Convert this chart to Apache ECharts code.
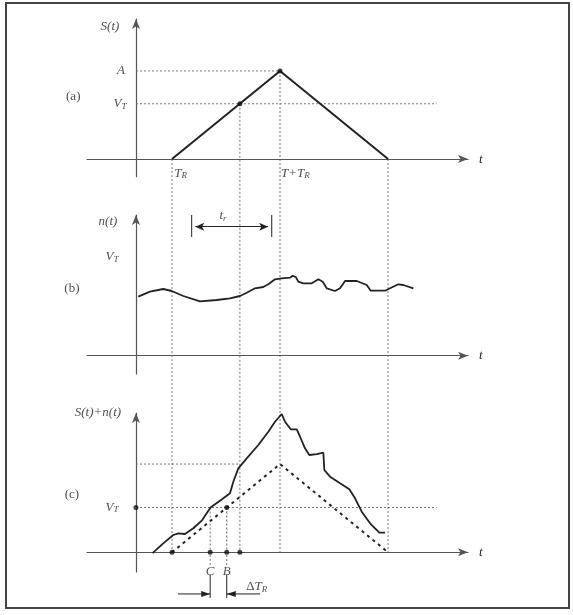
<!DOCTYPE html>
<html><head><meta charset="utf-8">
<script src="https://cdn.jsdelivr.net/npm/echarts@6/dist/echarts.min.js"></script>
<style>html,body{margin:0;padding:0;background:#fff}#c{width:573px;height:615px}</style>
</head><body><div id="c"></div><script>
// ---------- data (t in units of T_R; each panel's own vertical units) ----------
const sigT = [1, 4, 7];                 // T_R, T+T_R, 2T+T_R
const sigA = [0, 1, 0];                 // panel (a): A = 1
const vtA = 0.628;                      // V_T level in panel (a)
const crossT = 2.885;                   // S(t) reaches V_T
const noiseT = [0.064,0.389,0.758,0.992,1.314,1.778,2.242,2.611,2.889,3.075,3.306,3.536,3.675,3.861,4.047,4.278,4.353,4.444,4.508,4.647,4.881,5.064,5.186,5.297,5.528,5.667,5.806,6.131,6.408,6.519,6.917,7.056,7.286,7.425,7.703];
const noiseV = [0.59,0.64,0.667,0.647,0.597,0.544,0.557,0.574,0.597,0.63,0.674,0.687,0.714,0.764,0.774,0.78,0.80,0.784,0.74,0.724,0.724,0.764,0.74,0.674,0.647,0.674,0.747,0.747,0.707,0.65,0.65,0.674,0.714,0.707,0.674];
const sumT = [0.46,0.758,1.036,1.175,1.361,1.592,1.84,2.07,2.38,2.611,2.703,2.842,3.075,3.397,3.675,3.861,4.047,4.139,4.297,4.464,4.556,4.694,4.814,5.019,5.203,5.231,5.389,5.667,5.925,6.083,6.269,6.5,6.758,6.917];
const sumV = [-0.02,0.20,0.386,0.424,0.408,0.536,0.72,1.0,1.18,1.317,1.576,1.875,2.098,2.395,2.692,2.915,3.087,2.915,2.746,2.746,2.58,2.321,2.172,2.194,2.223,1.837,1.688,1.54,1.406,1.205,0.906,0.647,0.4375,0.4375];
const sigC = [0, 1.97, 0];              // dashed S(t) in panel (c)
const vtB = 1, vtC = 1;                 // V_T in panels (b), (c)
const tC = 2.06, tB = 2.52;             // points C and B
const trSpan = [1.547, 3.77];           // t_r marker in panel (b)
const dTrArrows = [[1.167, 2.06], [3.444, 2.52]];
const dTrLevel = -0.93;
const vtLineEnd = 8.35;
const connT = [1, 2.885, 4, 7];         // vertical guides from (a) down to (c)
const connTop = [0, 0.628, 1, 0];

// ---------- helpers ----------
const SERIF = 'Liberation Serif, Times New Roman, serif';
const INK = '#222';
const GUIDE = '#777';
function pairs(xs, ys){ return xs.map((x,i)=>[x, ys[i]]); }
function line(grid, data, color, width, type, z){
  return {type:'line', xAxisIndex:grid, yAxisIndex:grid, data:data, symbol:'none', silent:true,
    clip:false, animation:false, z:z||2, lineStyle:{color:color, width:width, type:type||'solid'}};
}
function dots(grid, data){
  return {type:'scatter', xAxisIndex:grid, yAxisIndex:grid, data:data, symbol:'circle', symbolSize:5,
    itemStyle:{color:'#111'}, silent:true, animation:false, clip:false, z:5};
}
const rich = {
  i:{fontFamily:SERIF, fontStyle:'italic', fontSize:13, color:INK},
  s:{fontFamily:SERIF, fontStyle:'italic', fontSize:9, color:INK, padding:[5,0,0,0]},
  n:{fontFamily:SERIF, fontSize:13, color:INK}
};
function texts(grid, items){
  return {type:'scatter', xAxisIndex:grid, yAxisIndex:grid, symbolSize:1, silent:true, animation:false, clip:false,
    itemStyle:{color:'rgba(0,0,0,0)'}, z:6,
    data: items.map(it=>({value:[it[0], it[1]], name:it[2], label:{align:it[3]||'center'}})),
    label:{show:true, position:'inside', verticalAlign:'middle', formatter:p=>p.name, rich:rich}};
}
function xAx(i){
  return {type:'value', gridIndex:i, min:-1.36, max:9.22,
    axisLine:{show:true, onZero:true, symbol:['none','arrow'], symbolSize:[6,10], lineStyle:{color:'#555', width:1.2}},
    axisTick:{show:false}, axisLabel:{show:false}, splitLine:{show:false},
    name:'t', nameLocation:'end', nameGap:11,
    nameTextStyle:{fontFamily:SERIF, fontStyle:'italic', fontSize:13, color:INK}};
}
function yAx(i, mn, mx){
  return {type:'value', gridIndex:i, min:mn, max:mx,
    axisLine:{show:true, onZero:true, symbol:['none','arrow'], symbolSize:[6,10], lineStyle:{color:'#555', width:1.2}},
    axisTick:{show:false}, axisLabel:{show:false}, splitLine:{show:false}};
}

const series = [
  // ----- panel (a) -----
  line(0, [[0,1],[4,1]], GUIDE, 1, [2,2], 1),
  line(0, [[0,vtA],[vtLineEnd,vtA]], GUIDE, 1, [2,2], 1),
  line(0, pairs(sigT, sigA), INK, 2),
  dots(0, [[crossT, vtA],[sigT[1], sigA[1]]]),
  texts(0, [[-0.722,1.5,'{i|S(t)}'],[-0.417,1,'{i|A}'],[-0.444,vtA,'{i|V}{s|T}'],[-1.742,0.708,'{n|(a)}'],
            [1.06,-0.16,'{i|T}{s|R}','left'],[4.03,-0.16,'{i|T+T}{s|R}','left']]),
  // ----- panel (b) -----
  line(1, pairs(noiseT, noiseV), INK, 1.8),
  line(1, [[trSpan[0],1.187],[trSpan[0],1.407]], INK, 1),
  Object.assign(line(1, [[trSpan[1],1.187],[trSpan[1],1.407]], INK, 1), {
    markLine:{silent:true, animation:false, symbol:['arrow','arrow'], symbolSize:[6,9],
      lineStyle:{color:INK, width:1, type:'solid'}, label:{show:false},
      data:[[{coord:[trSpan[0]+0.1,1.29]},{coord:[trSpan[1]-0.1,1.29]}]]}
  }),
  texts(1, [[-0.778,1.337,'{i|n(t)}'],[-0.667,0.987,'{i|V}{s|T}'],[-1.778,0.667,'{n|(b)}'],[2.417,1.40,'{i|t}{s|r}']]),
  // ----- panel (c) -----
  line(2, [[0,sigC[1]],[crossT,sigC[1]]], GUIDE, 1, [2,2], 1),
  line(2, [[0,vtC],[vtLineEnd,vtC]], GUIDE, 1, [2,2], 1),
  line(2, [[tC,vtC],[tC,0]], GUIDE, 1, [2,2], 1),
  line(2, [[tB,vtC],[tB,0]], GUIDE, 1.2, [2,2], 1),
  line(2, [[tC,-0.06],[tC,-0.29]], GUIDE, 1, [2,2], 1),
  line(2, [[tB,-0.06],[tB,-0.29]], GUIDE, 1, [2,2], 1),
  line(2, [[tC,-0.5],[tC,-1.02]], INK, 1),
  line(2, [[tB,-0.5],[tB,-1.02]], INK, 1),
  line(2, dTrArrows[0].map(t=>[t, dTrLevel]), INK, 1),
  line(2, dTrArrows[1].map(t=>[t, dTrLevel]), INK, 1),
  line(2, pairs(sigT, sigC), INK, 2, [3,4]),
  line(2, pairs(sumT, sumV), INK, 1.8),
  dots(2, [[0,vtC],[tB,vtC],[sigT[0],0],[tC,0],[tB,0],[crossT,0]]),
  texts(2, [[-1.056,3.13,'{i|S(t)+n(t)}'],[-0.667,vtC,'{i|V}{s|T}'],[-1.778,1.28,'{n|(c)}'],
            [tC,-0.42,'{i|C}'],[tB,-0.42,'{i|B}'],[3.06,-0.77,'{n|Δ}{i|T}{s|R}','left']])
];

const option = {
  backgroundColor:'#fff', animation:false,
  grid:[
    {left:87, width:381, top:19, height:157.7, containLabel:false},
    {left:87, width:381, top:215, height:159, containLabel:false},
    {left:87, width:381, top:413, height:159, containLabel:false}
  ],
  xAxis:[xAx(0), xAx(1), xAx(2)],
  yAxis:[yAx(0,-0.2,1.59), yAx(1,-0.183,1.407), yAx(2,-0.44,3.11)],
  series: series
};
const chart = echarts.init(document.getElementById('c'), null, {renderer:'canvas'});
chart.setOption(option);

// vertical guides spanning panels and arrowheads, placed through the grids' own scales
const gfx = [{type:'rect', id:'frame', shape:{x:6, y:3, width:563, height:605}, style:{fill:'none', stroke:'#444', lineWidth:2}, silent:true}];
connT.forEach((t,i)=>{
  const p1 = chart.convertToPixel({gridIndex:0}, [t, connTop[i]]);
  const p2 = chart.convertToPixel({gridIndex:2}, [t, 0]);
  gfx.push({type:'line', id:'conn'+i, z:0, silent:true, shape:{x1:p1[0], y1:p1[1], x2:p2[0], y2:p2[1]},
    style:{stroke:GUIDE, lineWidth:1, lineDash:[2,2]}});
});
dTrArrows.forEach((a,i)=>{
  const p1 = chart.convertToPixel({gridIndex:2}, [a[0], dTrLevel]);
  const p2 = chart.convertToPixel({gridIndex:2}, [a[1], dTrLevel]);
  const d = p2[0] > p1[0] ? 1 : -1;
  gfx.push({type:'polygon', id:'head'+i, z:10, silent:true,
    shape:{points:[[p2[0], p2[1]], [p2[0]-d*9, p2[1]-3], [p2[0]-d*9, p2[1]+3]]},
    style:{fill:INK}});
});
chart.setOption({graphic: gfx});
</script></body></html>
